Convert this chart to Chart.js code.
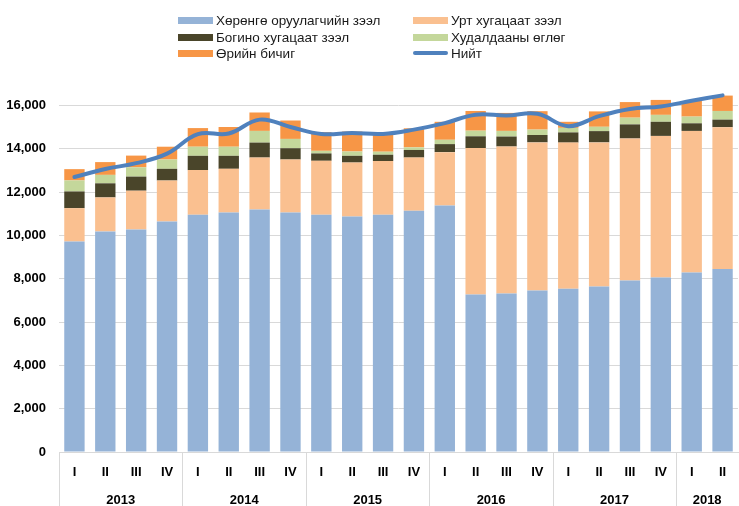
<!DOCTYPE html>
<html>
<head>
<meta charset="utf-8">
<script src="https://cdn.jsdelivr.net/npm/chart.js@4"></script>
<style>
  html, body { margin: 0; padding: 0; background: #fff; }
  #wrap { position: relative; width: 739px; height: 506px; }
  canvas { position: absolute; left: 0; top: 0; }
  .lg { position: absolute; font-family: 'Liberation Sans', Arial, sans-serif; font-size: 13.5px; color: #1a1a1a; white-space: nowrap; line-height: 15px; }
  .sw { position: absolute; width: 35px; height: 7px; }
  .ln { position: absolute; width: 35px; height: 4px; border-radius: 2px; background: #4F81BD; }
</style>
</head>
<body>
<div id="wrap">
  <canvas id="c" width="739" height="506"></canvas>
  <div id="legend"></div>
</div>
<script>
// ---- data ----
const quarters = ['I','II','III','IV','I','II','III','IV','I','II','III','IV','I','II','III','IV','I','II','III','IV','I','II'];
const years = ['2013','2013','2013','2013','2014','2014','2014','2014','2015','2015','2015','2015','2016','2016','2016','2016','2017','2017','2017','2017','2018','2018'];
const seriesNames = ['Хөрөнгө оруулагчийн зээл','Урт хугацаат зээл','Богино хугацаат зээл','Худалдааны өглөг','Өрийн бичиг','Нийт'];
const investorLoans = [9715,10180,10270,10640,10950,11050,11190,11050,10950,10870,10950,11130,11380,7270,7310,7450,7540,7640,7910,8050,8280,8450];
const longTermLoans = [1540,1570,1790,1890,2060,2020,2400,2450,2490,2490,2480,2460,2460,6760,6790,6840,6740,6650,6560,6540,6540,6540];
const shortTermLoans = [770,650,650,540,660,600,690,520,340,310,290,350,370,540,460,340,470,520,650,650,350,350];
const tradeCredit = [510,390,430,430,420,420,540,430,120,200,140,120,200,260,260,250,210,200,310,320,310,400];
const debtSecurities = [520,590,540,590,860,910,850,850,860,920,790,880,830,910,830,850,280,710,720,690,720,710];
const total = [12690,13060,13330,13770,14670,14700,15340,15000,14680,14720,14680,14880,15180,15570,15530,15610,15040,15500,15830,15950,16210,16460];
const yTicks = [0,2000,4000,6000,8000,10000,12000,14000,16000];

const colors = ['#95B3D7','#FAC090','#4A452A','#C4D79B','#F79646','#4F81BD'];
const FONT = "'Liberation Sans', Arial, sans-serif";

// ---- legend (HTML) ----
const legendPos = [[178,20.5],[413,20.5],[178,37],[413,37],[178,53],[413,53]];
const lg = document.getElementById('legend');
seriesNames.forEach((n, i) => {
  const [x, y] = legendPos[i];
  const sw = document.createElement('div');
  if (i === 5) { sw.className = 'ln'; sw.style.left = x + 'px'; sw.style.top = (y - 2) + 'px'; }
  else { sw.className = 'sw'; sw.style.left = x + 'px'; sw.style.top = (y - 3.5) + 'px'; sw.style.background = colors[i]; }
  lg.appendChild(sw);
  const t = document.createElement('div');
  t.className = 'lg'; t.textContent = n;
  t.style.left = (x + 38) + 'px'; t.style.top = (y - 7.5) + 'px';
  lg.appendChild(t);
});

// ---- year group plugin ----
const yearGroups = [];
years.forEach((y, i) => {
  const last = yearGroups[yearGroups.length - 1];
  if (last && last.label === y) last.end = i; else yearGroups.push({label: y, start: i, end: i});
});
const yearPlugin = {
  id: 'yearPlugin',
  afterDraw(chart) {
    const x = chart.scales.x, ctx = chart.ctx, area = chart.chartArea;
    const bound = (i) => {
      if (i <= 0) return area.left;
      if (i >= quarters.length) return area.right;
      return (x.getPixelForValue(i - 1) + x.getPixelForValue(i)) / 2;
    };
    ctx.save();
    ctx.strokeStyle = '#d9d9d9'; ctx.lineWidth = 1;
    yearGroups.forEach(g => {
      const l = Math.round(bound(g.start)) + 0.5;
      ctx.beginPath(); ctx.moveTo(l, area.bottom); ctx.lineTo(l, 506); ctx.stroke();
    });
    ctx.fillStyle = '#000'; ctx.font = 'bold 13px ' + FONT;
    ctx.textAlign = 'center'; ctx.textBaseline = 'middle';
    yearGroups.forEach(g => {
      const cx = (bound(g.start) + bound(g.end + 1)) / 2;
      ctx.fillText(g.label, cx, 500);
    });
    ctx.restore();
  }
};

const barSets = [investorLoans, longTermLoans, shortTermLoans, tradeCredit, debtSecurities].map((d, i) => ({
  type: 'bar', label: seriesNames[i], data: d, backgroundColor: colors[i], borderWidth: 0,
  stack: 'bars', order: 1, barPercentage: 0.66, categoryPercentage: 1.0
}));

new Chart(document.getElementById('c'), {
  data: {
    labels: quarters,
    datasets: [
      { type: 'line', label: seriesNames[5], data: total, borderColor: colors[5], backgroundColor: colors[5],
        borderWidth: 4, pointRadius: 0, tension: 0.4, stack: 'line', order: 0, borderCapStyle: 'round' },
      ...barSets
    ]
  },
  options: {
    responsive: false, animation: false,
    layout: { padding: { top: 88, right: 1, left: 0, bottom: 0 } },
    plugins: { legend: { display: false }, tooltip: { enabled: false } },
    scales: {
      x: {
        stacked: true,
        grid: { display: false },
        border: { display: true, color: '#d9d9d9' },
        ticks: { color: '#000', font: { family: FONT, size: 13, weight: 'bold' }, padding: 5, maxRotation: 0, autoSkip: false },
        afterFit: s => { s.height = 54; }
      },
      y: {
        stacked: true, min: 0, max: 16800,
        afterBuildTicks: s => { s.ticks = yTicks.map(v => ({ value: v })); },
        grid: { color: '#d9d9d9', drawTicks: false },
        border: { display: false },
        ticks: { color: '#000', font: { family: FONT, size: 13, weight: 'bold' }, padding: 13,
          callback: v => v.toLocaleString('en-US') },
        afterFit: s => { s.width = 59; }
      }
    }
  },
  plugins: [yearPlugin]
});
</script>
</body>
</html>
